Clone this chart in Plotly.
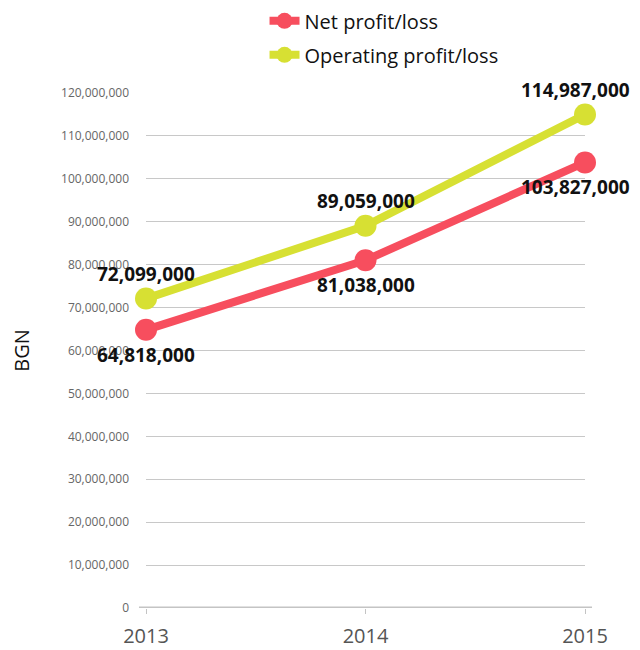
import plotly.graph_objects as go

years = ["2013", "2014", "2015"]
net_profit = [64818000, 81038000, 103827000]
operating_profit = [72099000, 89059000, 114987000]
y_ticks = list(range(0, 120000001, 10000000))

RED = "#F74E5E"
YEL = "#D7E033"
FONT = "Open Sans, sans-serif"

fig = go.Figure()
fig.add_trace(go.Scatter(x=years, y=net_profit, name="Net profit/loss", legendgroup="a",
                         mode="lines+markers", line=dict(color=RED, width=8),
                         marker=dict(size=22, color=RED), cliponaxis=False))
fig.add_trace(go.Scatter(x=years, y=operating_profit, name="Operating profit/loss", legendgroup="b",
                         mode="lines+markers", line=dict(color=YEL, width=8),
                         marker=dict(size=22, color=YEL), cliponaxis=False))

# value labels (x as category index): net below, operating above
last = len(years) - 1
for i, v in enumerate(net_profit):
    fig.add_annotation(x=i, y=v, text=f"<b>{v:,}</b>", showarrow=False, yshift=-25,
                       xshift=-10 if i == last else 0,
                       font=dict(family=FONT, size=19, color="#111"))
for i, v in enumerate(operating_profit):
    fig.add_annotation(x=i, y=v, text=f"<b>{v:,}</b>", showarrow=False, yshift=25,
                       xshift=-10 if i == last else 0,
                       font=dict(family=FONT, size=19, color="#111"))

# baseline
fig.add_shape(type="line", xref="paper", yref="y", x0=-0.016, x1=1.016, y0=0, y1=0,
              line=dict(color="#c4c4c4", width=3), layer="below")

fig.update_layout(
    width=640, height=650,
    margin=dict(l=138, r=63, t=85, b=50, autoexpand=False),
    paper_bgcolor="white", plot_bgcolor="white",
    font=dict(family=FONT),
    showlegend=True,
    legend=dict(orientation="v", x=0.27, xanchor="left", y=1.178, yanchor="top",
                font=dict(size=20, color="#111", family=FONT), itemwidth=30,
                traceorder="grouped", tracegroupgap=5, bgcolor="rgba(0,0,0,0)"),
    xaxis=dict(type="category", range=[0, 2], showgrid=False, zeroline=False,
               showline=False, ticks="outside", ticklen=5, tickcolor="#c4c4c4",
               ticklabelstandoff=5,
               tickfont=dict(size=20, color="#555", family=FONT)),
    yaxis=dict(range=[0, 120000000], tickvals=y_ticks,
               ticktext=[f"{t:,}" for t in y_ticks],
               showgrid=True, gridcolor="#c8c8c8", gridwidth=1, zeroline=False,
               showline=False, ticks="", ticklabelstandoff=16,
               tickfont=dict(size=12, color="#666", family=FONT),
               title=dict(text="BGN", font=dict(size=20, color="#111", family=FONT),
                          standoff=26)),
)

fig.write_html("out.html")
